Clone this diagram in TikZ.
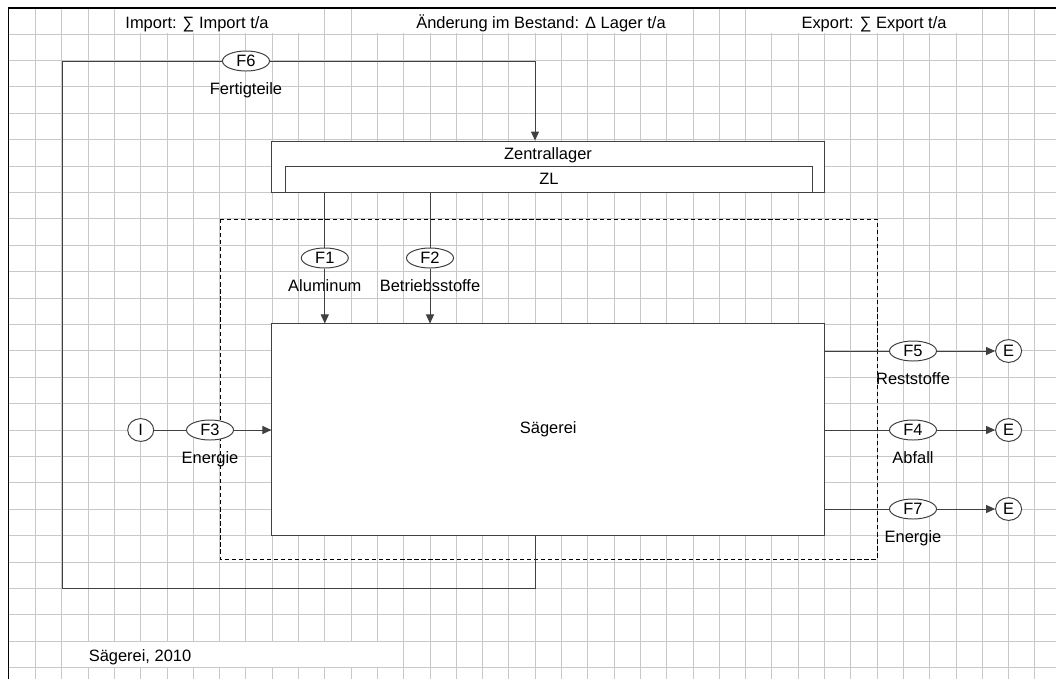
\documentclass[tikz,border=0pt]{standalone}
\usepackage{fontspec}
\setmainfont{Liberation Sans}
\usetikzlibrary{positioning,shapes.geometric,arrows.meta}
\definecolor{gridgray}{HTML}{C8C8C8}
\definecolor{linegray}{HTML}{404040}

\begin{document}
\begin{tikzpicture}[x=0.025cm,y=-0.025cm,
    font=\fontsize{11.7}{14}\selectfont,
    gridline/.style={draw=gridgray,line width=0.6pt},
    plain/.style={inner sep=0pt},
    box/.style={rectangle,draw=linegray,fill=white,line width=0.7pt,inner sep=0pt},
    flowid/.style={ellipse,draw=linegray,fill=white,line width=0.7pt,
      minimum width=1.175cm,minimum height=0.5cm,inner sep=0pt},
    endpoint/.style={ellipse,draw=linegray,fill=white,line width=0.7pt,
      minimum width=0.65cm,minimum height=0.57cm,inner sep=0pt},
    flow/.style={draw=linegray,line width=0.7pt},
    flowarrow/.style={flow,-{Triangle[length=6.4pt,width=5.7pt]}}]
  \useasboundingbox (0,0) rectangle (1056,679);
  % squared paper
  \foreach \k in {1,...,39}
    \draw[gridline] ({9.2+26.3*\k},8) -- ({9.2+26.3*\k},679);
  \foreach \k in {1,...,25}
    \draw[gridline] (8.5,{7.7+26.4*\k}) -- (1056,{7.7+26.4*\k});
  % white fields behind the texts
  \fill[white] (116,9) rectangle (324,33);
  \fill[white] (377,9) rectangle (693,33);
  \fill[white] (746,9) rectangle (982,33);
  \fill[white] (62,641.5) rectangle (402,667);
  \draw[black,line width=1.2pt] (8.5,679) -- (8.5,8) -- (1056,8);
  \node[plain,anchor=base] (importhead) at (197,28) {Import: ∑ Import t/a};
  \node[plain,anchor=base] (stockhead) at (541,28) {Änderung im Bestand: Δ Lager t/a};
  \node[plain,anchor=base] (exporthead) at (874,28) {Export: ∑ Export t/a};
  \node[plain,anchor=base west] (caption) at (88.5,661) {Sägerei, 2010};
  % system border
  \draw[black,line width=0.6pt,dash pattern=on 3pt off 2pt]
    (220,219) rectangle (877,559);
  \node[box,minimum width=13.8125cm,minimum height=1.275cm] (lager) at (548.25,166.5) {};
  \node[plain,anchor=base] (lagername) at (548,159) {Zentrallager};
  \node[box,minimum width=13.15cm,minimum height=0.65cm] (zl) at (549,179) {ZL};
  \node[box,minimum width=13.8125cm,minimum height=5.275cm] (saegerei) at (548.25,429.5) {Sägerei};
  \node[flowid] (f1) at (324.8,258) {F1};
  \node[flowid] (f2) at (430,258) {F2};
  \node[flowid] (f3) at (210,430) {F3};
  \node[flowid] (f4) at (913,430) {F4};
  \node[flowid] (f5) at (913,351) {F5};
  \node[flowid] (f6) at (246,61) {F6};
  \node[flowid] (f7) at (913,509) {F7};
  \node[plain,below=0.26cm of f1] (f1name) {Aluminum};
  \node[plain,below=0.26cm of f2] (f2name) {Betriebsstoffe};
  \node[plain,below=0.26cm of f3] (f3name) {Energie};
  \node[plain,below=0.26cm of f4] (f4name) {Abfall};
  \node[plain,below=0.26cm of f5] (f5name) {Reststoffe};
  \node[plain,below=0.26cm of f6] (f6name) {Fertigteile};
  \node[plain,below=0.26cm of f7] (f7name) {Energie};
  \node[endpoint] (imp) at (140.7,430) {I};
  \node[endpoint] (exp4) at (1008.6,430) {E};
  \node[endpoint] (exp5) at (1008.6,351) {E};
  \node[endpoint] (exp7) at (1008.6,509) {E};
  \coordinate (loopout) at (535,588);
  \coordinate (loopleft) at (62,588);
  \coordinate (looptop) at (62,61);
  \coordinate (loopin) at (535,61);
  \draw[flow] (f1 |- lager.south) -- (f1);
  \draw[flowarrow] (f1) -- (f1 |- saegerei.north);
  \draw[flow] (f2 |- lager.south) -- (f2);
  \draw[flowarrow] (f2) -- (f2 |- saegerei.north);
  \draw[flow] (imp) -- (f3);
  \draw[flowarrow] (f3) -- (f3 -| saegerei.west);
  \draw[flow] (f5 -| saegerei.east) -- (f5);
  \draw[flowarrow] (f5) -- (exp5);
  \draw[flow] (f4 -| saegerei.east) -- (f4);
  \draw[flowarrow] (f4) -- (exp4);
  \draw[flow] (f7 -| saegerei.east) -- (f7);
  \draw[flowarrow] (f7) -- (exp7);
  \draw[flow] (loopout |- saegerei.south) -- (loopout) -- (loopleft) -- (looptop) -- (f6);
  \draw[flowarrow] (f6) -- (loopin) -- (loopin |- lager.north);
\end{tikzpicture}
\end{document}
